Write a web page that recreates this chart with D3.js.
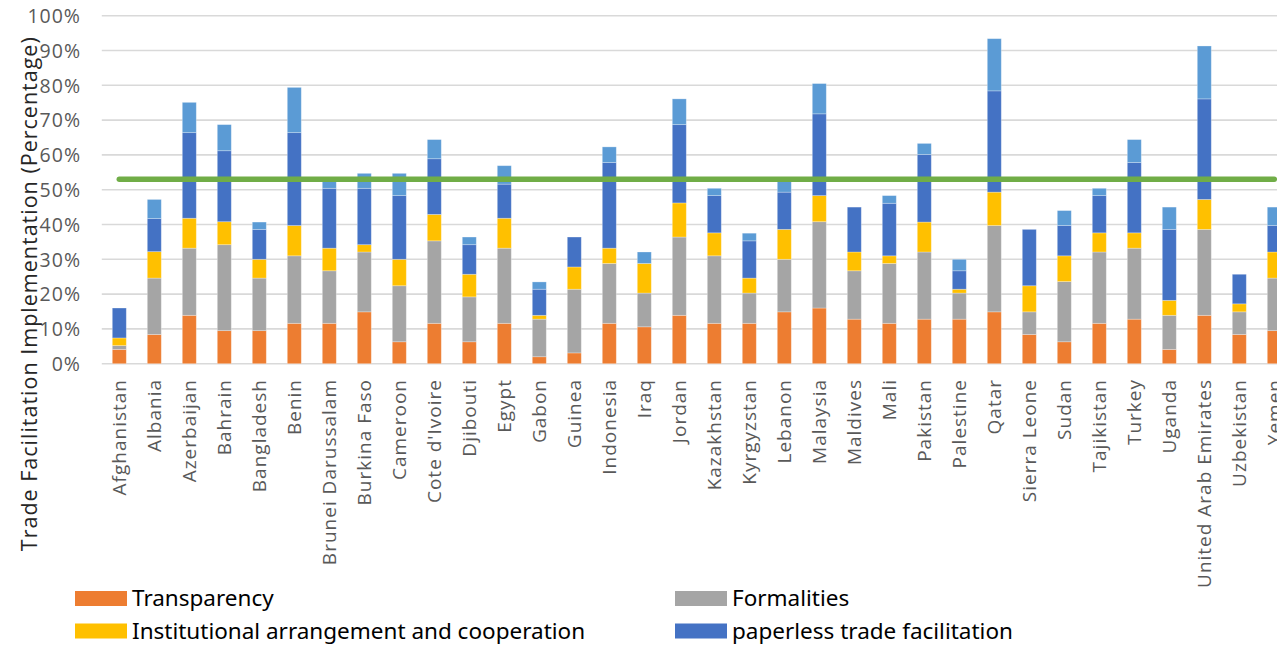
<!DOCTYPE html>
<html>
<head>
<meta charset="utf-8">
<script src="https://cdn.jsdelivr.net/npm/d3@7"></script>
<style>
  html, body { margin: 0; padding: 0; background: #fff; }
  svg { display: block; }
</style>
</head>
<body>
<svg id="chart" width="1277" height="646"></svg>
<script>
// Countries along the x axis
const countries = ["Afghanistan","Albania","Azerbaijan","Bahrain","Bangladesh","Benin","Brunei Darussalam","Burkina Faso","Cameroon","Cote d'Ivoire","Djibouti","Egypt","Gabon","Guinea","Indonesia","Iraq","Jordan","Kazakhstan","Kyrgyzstan","Lebanon","Malaysia","Maldives","Mali","Pakistan","Palestine","Qatar","Sierra Leone","Sudan","Tajikistan","Turkey","Uganda","United Arab Emirates","Uzbekistan","Yemen"];

// Implementation scores per group of measures (percentage points)
const transparency = [4.1,8.4,13.9,9.5,9.5,11.6,11.6,14.9,6.3,11.6,6.3,11.6,2.0,3.1,11.6,10.6,13.9,11.6,11.6,14.9,16.0,12.8,11.6,12.8,12.8,14.9,8.4,6.3,11.6,12.8,4.1,13.9,8.4,9.5];
const formalities = [1.1,16.2,19.3,24.7,15.1,19.4,15.1,17.2,16.1,23.7,12.9,21.6,10.8,18.3,17.2,9.7,22.5,19.4,8.7,15.1,24.8,13.9,17.2,19.3,7.5,24.8,6.5,17.3,20.5,20.4,9.8,24.7,6.5,15.1];
const institutional = [2.2,7.6,8.6,6.6,5.4,8.7,6.5,2.1,7.6,7.6,6.5,8.6,1.1,6.4,4.4,8.5,9.8,6.6,4.3,8.6,7.5,5.4,2.2,8.6,1.1,9.6,7.5,7.4,5.5,4.4,4.3,8.6,2.3,7.5];
const paperless = [8.6,9.5,24.6,20.4,8.6,26.7,17.2,16.2,18.3,16.0,8.5,9.8,7.5,8.6,24.6,0,22.5,10.7,10.7,10.7,23.5,12.9,15.1,19.4,5.3,29.1,16.2,8.7,10.7,20.2,20.4,28.9,8.5,7.6];
const crossBorder = [0,5.5,8.7,7.5,2.1,13.0,2.1,4.3,6.4,5.5,2.2,5.3,2.1,0,4.5,3.3,7.4,2.1,2.2,3.5,8.7,0,2.2,3.2,3.3,15.0,0,4.3,2.1,6.6,6.4,15.2,0,5.3];

// Group average drawn as a reference line
const averageLevel = 53.0;

const yTicks = [0,10,20,30,40,50,60,70,80,90,100];

const seriesNames = ["Transparency","Formalities","Institutional arrangement and cooperation","paperless trade facilitation","Cross-border paperless trade"];
const seriesValues = [transparency, formalities, institutional, paperless, crossBorder];
const seriesColors = ["#ed7d31","#a5a5a5","#ffc000","#4472c4","#5b9bd5"];

const svg = d3.select("#chart");
const W = 1277, H = 646;

const rows = countries.map((c, i) => {
  const r = { country: c };
  seriesNames.forEach((s, k) => { r[s] = seriesValues[k][i]; });
  return r;
});

const x = d3.scaleBand().domain(countries).range([101.8, 101.8 + 35 * countries.length]).paddingInner(0.6).paddingOuter(0.3);
const y = d3.scaleLinear().domain([0, 100]).range([363.7, 15.7]);

// Horizontal gridlines
svg.append("g").selectAll("line").data(yTicks).join("line")
  .attr("x1", 101.8).attr("x2", W + 20)
  .attr("y1", d => y(d)).attr("y2", d => y(d))
  .attr("stroke", "#d9d9d9").attr("stroke-width", 1.6);

// Y axis labels
const yAxis = d3.axisLeft(y).tickValues(yTicks).tickFormat(d => d + "%").tickSize(0).tickPadding(0);
const yg = svg.append("g").attr("transform", "translate(81,0)").call(yAxis);
yg.select(".domain").remove();
yg.selectAll("text")
  .attr("font-family", "'Open Sans', sans-serif").attr("font-size", 19.5).attr("letter-spacing", 1)
  .attr("fill", "#595959").attr("dy", "0.35em");

// Y axis title
svg.append("text")
  .attr("transform", "translate(37," + (y(50) + 104) + ") rotate(-90)")
  .attr("text-anchor", "middle")
  .attr("font-family", "'Open Sans', sans-serif").attr("font-size", 21.5).attr("letter-spacing", 1)
  .attr("fill", "#262626")
  .text("Trade Facilitation Implementation (Percentage)");

// Stacked bars
const stack = d3.stack().keys(seriesNames)(rows);
svg.append("g").selectAll("g").data(stack).join("g")
  .attr("fill", (d, i) => seriesColors[i])
  .selectAll("rect").data(d => d).join("rect")
  .attr("x", d => x(d.data.country))
  .attr("width", x.bandwidth())
  .attr("y", d => y(d[1]))
  .attr("height", d => Math.max(0, y(d[0]) - y(d[1])))
  .attr("stroke", "rgba(255,255,255,0.35)").attr("stroke-width", 0.8);

// X axis category labels
const xAxis = d3.axisBottom(x).tickSize(0).tickPadding(0);
const xg = svg.append("g").attr("transform", "translate(0,372)").call(xAxis);
xg.select(".domain").remove();
xg.selectAll("text")
  .attr("font-family", "'Open Sans', sans-serif").attr("font-size", 19).attr("letter-spacing", 1)
  .attr("fill", "#595959")
  .attr("text-anchor", "end")
  .attr("transform", "rotate(-90)")
  .attr("x", -7).attr("y", 0).attr("dy", "0.35em");

// Average line
svg.append("line")
  .attr("x1", x(countries[0]) + x.bandwidth() / 2)
  .attr("x2", x(countries[countries.length - 1]) + x.bandwidth() / 2)
  .attr("y1", y(averageLevel)).attr("y2", y(averageLevel))
  .attr("stroke", "#70ad47").attr("stroke-width", 5.5).attr("stroke-linecap", "round");

// Legend (two columns)
const legendItems = [
  { name: seriesNames[0], color: seriesColors[0], lx: 75, ly: 591 },
  { name: seriesNames[2], color: seriesColors[2], lx: 75, ly: 623.5 },
  { name: seriesNames[1], color: seriesColors[1], lx: 675, ly: 591 },
  { name: seriesNames[3], color: seriesColors[3], lx: 675, ly: 623.5 }
];
const lg = svg.append("g").selectAll("g").data(legendItems).join("g")
  .attr("transform", d => `translate(${d.lx},${d.ly})`);
lg.append("rect").attr("width", 52).attr("height", 15).attr("fill", d => d.color);
lg.append("text").attr("x", 57).attr("y", 7.5).attr("dy", "0.35em")
  .attr("font-family", "'Liberation Sans Narrow', 'Noto Sans', sans-serif").attr("font-size", 22.5).attr("fill", "#000")
  .text(d => d.name);
</script>
</body>
</html>
